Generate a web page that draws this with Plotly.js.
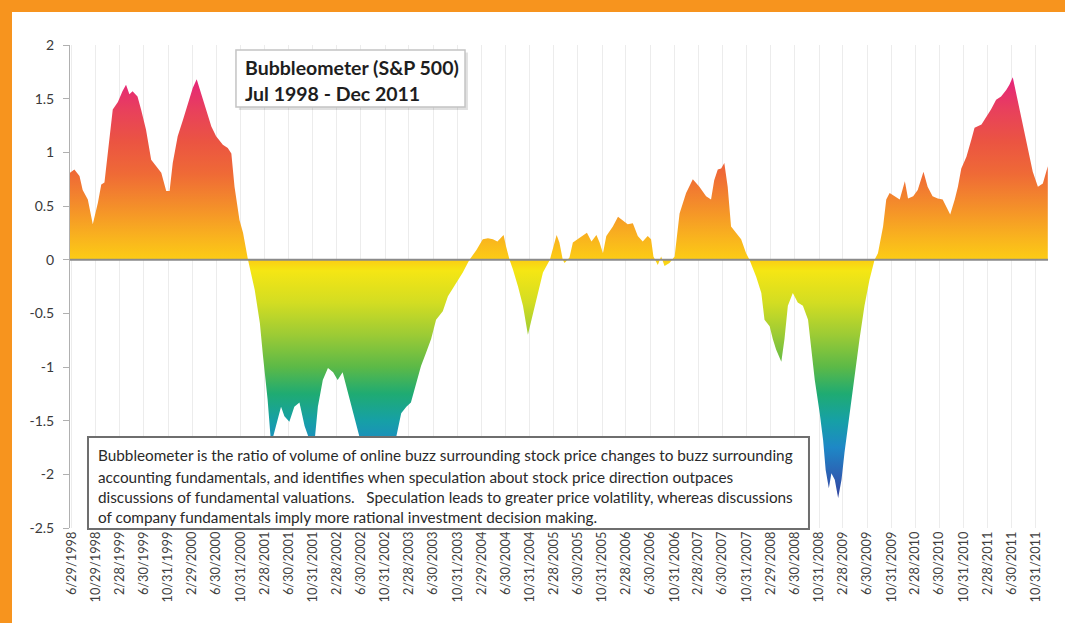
<!DOCTYPE html>
<html>
<head>
<meta charset="utf-8">
<script src="https://cdn.plot.ly/plotly-3.0.1.min.js"></script>
<style>
  html, body { margin: 0; padding: 0; background: #f7941e; width: 1065px; height: 623px; overflow: hidden; }
  #chart { position: absolute; left: 12px; top: 12px; width: 1053px; height: 611px; background: #fff; }
</style>
</head>
<body>
<div id="chart"></div>
<script>
// ---- Data ----
const dates = [
 '1998-06-22','1998-07-14','1998-08-09','1998-08-25','1998-09-20','1998-10-15','1998-11-10','1998-11-27','1998-12-13',
 '1999-01-08','1999-01-24','1999-02-19','1999-03-14','1999-04-01','1999-04-18','1999-05-04','1999-05-29','1999-06-16',
 '1999-07-11','1999-08-06','1999-08-31','1999-09-26','1999-10-21','1999-11-07','1999-11-23','1999-12-18',
 '2000-01-13','2000-02-08','2000-03-03','2000-03-23','2000-04-15','2000-05-10','2000-06-05','2000-06-29','2000-08-02',
 '2000-08-27','2000-09-14','2000-09-30','2000-10-25','2000-11-12','2000-12-07',
 '2001-01-10','2001-02-05','2001-02-21','2001-03-16','2001-04-03','2001-04-28','2001-05-23','2001-06-09','2001-07-04',
 '2001-07-29','2001-08-24','2001-09-19','2001-10-14','2001-11-09','2001-11-25','2001-12-20',
 '2002-01-15','2002-02-10','2002-03-05','2002-03-30','2002-04-25','2002-05-28','2002-06-23','2002-08-13','2002-10-03',
 '2002-11-22','2002-12-26',
 '2003-01-20','2003-02-15','2003-03-10','2003-04-05','2003-04-30','2003-05-25','2003-06-20','2003-07-15','2003-08-18',
 '2003-09-13','2003-10-24','2003-11-27','2003-12-22','2003-12-31',
 '2004-02-04','2004-03-07','2004-04-02','2004-04-27','2004-05-20','2004-06-20','2004-07-03','2004-07-20',
 '2004-08-06','2004-09-01','2004-09-26','2004-10-21','2004-11-16','2004-12-11',
 '2005-01-05','2005-02-09','2005-03-04','2005-03-15','2005-03-29','2005-04-15','2005-04-24','2005-05-19','2005-06-05',
 '2005-06-30','2005-07-25','2005-08-15','2005-09-07','2005-10-02','2005-10-18','2005-11-04','2005-11-21','2005-12-24',
 '2006-01-19','2006-02-14','2006-03-09','2006-04-04','2006-04-29','2006-05-24','2006-06-18','2006-07-05','2006-07-17',
 '2006-08-08','2006-08-25','2006-09-11','2006-10-06','2006-11-01','2006-11-26','2006-12-29',
 '2007-02-01','2007-03-06','2007-04-09','2007-05-04','2007-05-20','2007-06-07','2007-06-24','2007-07-10','2007-07-27',
 '2007-08-13','2007-09-08','2007-10-03','2007-10-28','2007-11-14','2007-12-18',
 '2008-01-13','2008-01-29','2008-02-24','2008-03-11','2008-03-28','2008-04-23','2008-05-09','2008-05-26','2008-06-20',
 '2008-07-15','2008-08-10','2008-09-05','2008-09-22','2008-10-09','2008-11-03','2008-11-20','2008-12-03','2008-12-19',
 '2009-01-01','2009-01-18','2009-02-04','2009-02-21','2009-03-08','2009-04-03','2009-04-28','2009-05-23','2009-06-17',
 '2009-07-12','2009-08-07','2009-08-24','2009-09-19','2009-10-05','2009-10-22','2009-11-17','2009-12-12',
 '2010-01-07','2010-01-23','2010-02-18','2010-03-13','2010-04-11','2010-05-02','2010-05-27','2010-06-22','2010-07-17',
 '2010-08-12','2010-08-24','2010-09-16','2010-10-02','2010-10-19','2010-11-14','2010-12-09','2010-12-25',
 '2011-01-29','2011-02-23','2011-03-18','2011-04-13','2011-05-08','2011-06-03','2011-06-19','2011-07-06','2011-07-31',
 '2011-08-18','2011-09-04','2011-09-29','2011-10-15','2011-11-10','2011-12-05','2011-12-30'
];
const bubbleometer = [
 0.81,0.84,0.78,0.65,0.56,0.33,0.53,0.70,0.72,
 1.12,1.40,1.47,1.57,1.63,1.54,1.57,1.52,1.40,
 1.21,0.93,0.87,0.81,0.64,0.64,0.90,1.15,
 1.30,1.46,1.60,1.68,1.55,1.40,1.24,1.15,1.07,
 1.04,0.99,0.68,0.37,0.25,0.00,
 -0.28,-0.59,-0.90,-1.30,-1.72,-1.55,-1.37,-1.46,-1.51,
 -1.37,-1.33,-1.55,-1.68,-1.68,-1.37,-1.12,
 -1.01,-1.05,-1.12,-1.05,-1.24,-1.46,-1.65,-1.75,-1.72,
 -1.76,-1.65,
 -1.43,-1.37,-1.33,-1.15,-0.99,-0.87,-0.74,-0.56,-0.48,
 -0.34,-0.22,-0.12,-0.03,0.00,
 0.09,0.19,0.20,0.19,0.17,0.23,0.12,0.00,
 -0.09,-0.25,-0.43,-0.70,-0.50,-0.31,
 -0.12,0.00,0.16,0.23,0.16,0.00,-0.03,0.02,0.16,
 0.19,0.22,0.25,0.17,0.23,0.16,0.06,0.22,0.31,
 0.40,0.36,0.33,0.34,0.22,0.17,0.22,0.19,0.03,
 -0.05,0.03,-0.06,-0.03,0.03,0.43,0.62,
 0.75,0.68,0.59,0.56,0.74,0.84,0.85,0.90,0.68,
 0.31,0.25,0.19,0.06,0.00,-0.16,
 -0.31,-0.56,-0.62,-0.74,-0.84,-0.95,-0.74,-0.43,-0.31,
 -0.40,-0.43,-0.56,-0.84,-1.12,-1.43,-1.68,-1.96,-2.13,
 -1.99,-2.05,-2.22,-2.05,-1.80,-1.43,-1.12,-0.74,-0.43,
 -0.19,0.00,0.06,0.31,0.56,0.62,0.59,0.56,
 0.73,0.57,0.59,0.65,0.82,0.68,0.59,0.57,0.56,
 0.47,0.42,0.56,0.68,0.85,0.96,1.12,1.23,
 1.26,1.33,1.40,1.49,1.52,1.58,1.63,1.70,1.49,
 1.33,1.18,0.96,0.82,0.68,0.71,0.87
];
const xTickVals = [
 '1998-06-29','1998-10-29','1999-02-28','1999-06-30','1999-10-31','2000-02-29','2000-06-30','2000-10-31',
 '2001-02-28','2001-06-30','2001-10-31','2002-02-28','2002-06-30','2002-10-31','2003-02-28','2003-06-30',
 '2003-10-31','2004-02-29','2004-06-30','2004-10-31','2005-02-28','2005-06-30','2005-10-31','2006-02-28',
 '2006-06-30','2006-10-31','2007-02-28','2007-06-30','2007-10-31','2008-02-29','2008-06-30','2008-10-31',
 '2009-02-28','2009-06-30','2009-10-31','2010-02-28','2010-06-30','2010-10-31','2011-02-28','2011-06-30','2011-10-31'
];
const xTickText = [
 '6/29/1998','10/29/1998','2/28/1999','6/30/1999','10/31/1999','2/29/2000','6/30/2000','10/31/2000',
 '2/28/2001','6/30/2001','10/31/2001','2/28/2002','6/30/2002','10/31/2002','2/28/2003','6/30/2003',
 '10/31/2003','2/29/2004','6/30/2004','10/31/2004','2/28/2005','6/30/2005','10/31/2005','2/28/2006',
 '6/30/2006','10/31/2006','2/28/2007','6/30/2007','10/31/2007','2/29/2008','6/30/2008','10/31/2008',
 '2/28/2009','6/30/2009','10/31/2009','2/28/2010','6/30/2010','10/31/2010','2/28/2011','6/30/2011','10/31/2011'
];
const yTickVals = [2, 1.5, 1, 0.5, 0, -0.5, -1, -1.5, -2, -2.5];
const yTickText = ['2', '1.5', '1', '0.5', '0', '-0.5', '-1', '-1.5', '-2', '-2.5'];
const titleLines = ['Bubbleometer (S&P 500)', 'Jul 1998 - Dec 2011'];
const noteLines = [
 'Bubbleometer is the ratio of volume of online buzz surrounding stock price changes to buzz surrounding',
 'accounting fundamentals, and identifies when speculation about stock price direction outpaces',
 'discussions of fundamental valuations.   Speculation leads to greater price volatility, whereas discussions',
 'of company fundamentals imply more rational investment decision making.'
];

// ---- Chart ----
const FONT = 'Lato, "Open Sans", sans-serif';
const trace = {
  x: dates, y: bubbleometer, type: 'scatter', mode: 'lines',
  line: {width: 0, color: 'rgba(0,0,0,0)'},
  fill: 'tozeroy',
  fillgradient: {
    type: 'vertical', start: -2.25, stop: 1.72,
    colorscale: [
      [0.000, '#33409c'], [0.063, '#2c62b4'], [0.126, '#1e88c6'], [0.189, '#16a0a6'],
      [0.252, '#1fab72'], [0.315, '#5cb947'], [0.390, '#9ccb35'], [0.466, '#d3dd22'],
      [0.541, '#f5e614'], [0.567, '#fccc14'], [0.617, '#f9b41e'], [0.693, '#f48e2a'],
      [0.768, '#ef6a36'], [0.844, '#eb5442'], [0.919, '#e8405c'], [1.000, '#e5217e']
    ]
  },
  hoverinfo: 'x+y', showlegend: false
};

const shapes = [
  {type: 'line', xref: 'paper', yref: 'y', x0: 0, x1: 1, y0: 0, y1: 0, layer: 'above',
   line: {color: '#8a8a8a', width: 2}},
  // title box shadow + box
  {type: 'rect', xref: 'paper', yref: 'paper', x0: 0.1727, x1: 0.4069, y0: 0.9846, y1: 0.8656, layer: 'above',
   line: {width: 0}, fillcolor: 'rgba(0,0,0,0.12)'},
  {type: 'rect', xref: 'paper', yref: 'paper', x0: 0.1697, x1: 0.4039, y0: 0.9896, y1: 0.8716, layer: 'above',
   line: {color: '#c4c4c4', width: 1.5}, fillcolor: '#ffffff'},
  // note box
  {type: 'rect', xref: 'paper', yref: 'paper', x0: 0.0184, x1: 0.7556, y0: 0.1884, y1: -0.002, layer: 'above',
   line: {color: '#6e6e6e', width: 2}, fillcolor: '#ffffff'}
];

const titleY = [0.9524, 0.9006];
const noteY = [0.1511, 0.1062, 0.0636, 0.0234];
const annotations = [];
titleLines.forEach((t, i) => annotations.push({
  text: '<b>' + t.replace(/&/g, '&amp;') + '</b>', xref: 'paper', yref: 'paper', x: 0.1769, y: titleY[i],
  xanchor: 'left', yanchor: 'middle', showarrow: false,
  font: {family: FONT, size: 19.5, color: '#1e1e1e'}
}));
noteLines.forEach((t, i) => annotations.push({
  text: t.replace(/ {2,}/g, m => '&nbsp;'.repeat(m.length)), xref: 'paper', yref: 'paper', x: 0.0266, y: noteY[i],
  xanchor: 'left', yanchor: 'middle', showarrow: false,
  font: {family: FONT, size: 15.3, color: '#2a2a2a'}
}));

const layout = {
  width: 1053, height: 611,
  margin: {l: 58, r: 17, t: 33, b: 95},
  paper_bgcolor: '#ffffff', plot_bgcolor: '#ffffff',
  font: {family: FONT, color: '#404040'},
  xaxis: {
    type: 'date', range: ['1998-06-22', '2011-12-31'],
    tickmode: 'array', tickvals: xTickVals, ticktext: xTickText, tickangle: -90,
    tickfont: {family: FONT, size: 12.8, color: '#404040'},
    showgrid: true, gridcolor: '#ececec', gridwidth: 1,
    showline: false, zeroline: false, ticks: '', fixedrange: true
  },
  yaxis: {
    range: [-2.5, 2], tickmode: 'array', tickvals: yTickVals, ticktext: yTickText,
    tickfont: {family: FONT, size: 14, color: '#3a3a3a'},
    showgrid: false, zeroline: false,
    showline: true, linecolor: '#b0b0b0', linewidth: 1,
    ticks: 'outside', ticklen: 6, tickcolor: '#b0b0b0', ticklabelstandoff: 6, fixedrange: true
  },
  shapes: shapes,
  annotations: annotations
};

Plotly.newPlot('chart', [trace], layout, {displayModeBar: false, staticPlot: true});
</script>
</body>
</html>
